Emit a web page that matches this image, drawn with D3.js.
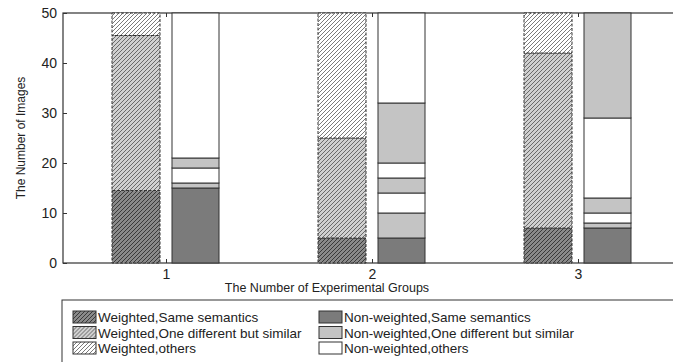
<!DOCTYPE html>
<html>
<head>
<meta charset="utf-8">
<script src="https://cdn.jsdelivr.net/npm/d3@7"></script>
<style>
  body { margin: 0; background: #fff; }
  text { font-family: "Liberation Sans", Arial, sans-serif; fill: #222; }
</style>
</head>
<body>
<div id="chart"></div>
<script>
  // groups on the x axis
  var groups = [1, 2, 3];
  var yTicks = [0, 10, 20, 30, 40, 50];

  // weighted stack (hatched)
  var wSame  = [14.5, 5, 7];
  var wDiff  = [31, 20, 35];
  var wOther = [4.5, 25, 8];

  // non-weighted stack, layers alternate as drawn in the figure
  var nwSame   = [15, 5, 7];
  var nwDiff1  = [1, 5, 1];
  var nwOther1 = [3, 4, 2];
  var nwDiff2  = [2, 3, 3];
  var nwOther2 = [29, 3, 16];
  var nwDiff3  = [0, 12, 21];
  var nwOther3 = [0, 18, 0];

  var legendLabels = [
    "Weighted,Same semantics", "Weighted,One different but similar", "Weighted,others",
    "Non-weighted,Same semantics", "Non-weighted,One different but similar", "Non-weighted,others"
  ];

  var width = 673, height = 362;
  var mLeft = 63, mRight = 681, mTop = 13, mBottom = 263;

  var svg = d3.select("#chart").append("svg")
              .attr("width", width)
              .attr("height", height);

  var defs = svg.append("defs");
  function hatch(id, bg, line){
    var p = defs.append("pattern")
                .attr("id", id)
                .attr("patternUnits", "userSpaceOnUse")
                .attr("width", 4).attr("height", 4);
    p.append("rect").attr("width", 4).attr("height", 4).attr("fill", bg);
    p.append("path")
     .attr("d", "M-1,1 l2,-2 M0,4 l4,-4 M3,5 l2,-2")
     .attr("stroke", line).attr("stroke-width", 1);
  }
  hatch("hSame", "#8a8a8a", "#3a3a3a");
  hatch("hDiff", "#d0d0d0", "#6a6a6a");
  hatch("hOther", "#ffffff", "#7a7a7a");

  var x = d3.scaleLinear().domain([0.5, 3.5]).range([mLeft, mRight]);
  var y = d3.scaleLinear().domain([0, 50]).range([mBottom, mTop]);

  var wRows = groups.map((g, i) => ({g: g, same: wSame[i], diff: wDiff[i], other: wOther[i]}));
  var wStack = d3.stack().keys(["same", "diff", "other"])(wRows);
  var wFill = {same: "url(#hSame)", diff: "url(#hDiff)", other: "url(#hOther)"};

  var nwKeys = ["s", "d1", "o1", "d2", "o2", "d3", "o3"];
  var nwRows = groups.map((g, i) => ({g: g, s: nwSame[i], d1: nwDiff1[i], o1: nwOther1[i],
    d2: nwDiff2[i], o2: nwOther2[i], d3: nwDiff3[i], o3: nwOther3[i]}));
  var nwStack = d3.stack().keys(nwKeys)(nwRows);
  var nwFill = {s: "#7b7b7b", d1: "#c4c4c4", o1: "#fff", d2: "#c4c4c4", o2: "#fff", d3: "#c4c4c4", o3: "#fff"};

  // frame
  svg.append("rect")
     .attr("x", mLeft).attr("y", mTop)
     .attr("width", mRight - mLeft).attr("height", mBottom - mTop)
     .attr("fill", "#fff").attr("stroke", "#333").attr("stroke-width", 1.2);

  // weighted bars
  svg.append("g").selectAll("g")
     .data(wStack).enter().append("g")
     .selectAll("rect")
     .data(d => d.map(v => Object.assign({key: d.key}, v)))
     .enter().append("rect")
     .attr("x", d => x(d.data.g) - 54)
     .attr("width", 48)
     .attr("y", d => y(d[1]))
     .attr("height", d => y(d[0]) - y(d[1]))
     .attr("fill", d => wFill[d.key])
     .attr("stroke", "#333")
     .attr("stroke-dasharray", "3,1.5")
     .attr("stroke-width", 1);

  // non-weighted bars
  svg.append("g").selectAll("g")
     .data(nwStack).enter().append("g")
     .selectAll("rect")
     .data(d => d.filter(v => v[1] > v[0]).map(v => Object.assign({key: d.key}, v)))
     .enter().append("rect")
     .attr("x", d => x(d.data.g) + 6)
     .attr("width", 47)
     .attr("y", d => y(d[1]))
     .attr("height", d => y(d[0]) - y(d[1]))
     .attr("fill", d => nwFill[d.key])
     .attr("stroke", "#333")
     .attr("stroke-width", 1);

  // axes
  var yAxis = svg.append("g")
     .attr("transform", "translate(" + mLeft + ",0)")
     .call(d3.axisLeft(y).tickValues(yTicks).tickSizeInner(-4).tickSizeOuter(0).tickPadding(6));
  var xAxis = svg.append("g")
     .attr("transform", "translate(0," + mBottom + ")")
     .call(d3.axisBottom(x).tickValues(groups).tickFormat(d3.format("d"))
             .tickSizeInner(-4).tickSizeOuter(0).tickPadding(6));
  var xTop = svg.append("g")
     .attr("transform", "translate(0," + mTop + ")")
     .call(d3.axisTop(x).tickValues(groups).tickSizeInner(-4).tickSizeOuter(0).tickFormat(""));
  [yAxis, xAxis, xTop].forEach(a => {
    a.select(".domain").remove();
    a.selectAll("line").attr("stroke", "#333");
    a.selectAll("text").attr("font-size", 14).style("fill", "#222")
     .attr("font-family", "'Liberation Sans', Arial, sans-serif");
  });

  svg.append("text")
     .attr("x", 327).attr("y", 292)
     .attr("text-anchor", "middle")
     .attr("font-size", 12.5)
     .text("The Number of Experimental Groups");

  svg.append("text")
     .attr("transform", "translate(25," + ((mTop + mBottom) / 2) + ") rotate(-90)")
     .attr("text-anchor", "middle")
     .attr("font-size", 12)
     .text("The Number of Images");

  // legend
  svg.append("rect")
     .attr("x", 62).attr("y", 300)
     .attr("width", 640).attr("height", 80)
     .attr("fill", "#fff").attr("stroke", "#333").attr("stroke-width", 1);

  var legendFill = ["url(#hSame)", "url(#hDiff)", "url(#hOther)", "#7b7b7b", "#c4c4c4", "#fff"];
  var lg = svg.append("g").selectAll("g")
     .data(legendLabels).enter().append("g")
     .attr("transform", (d, i) => "translate(" + (i < 3 ? 73 : 319) + "," + (311 + (i % 3) * 15.5) + ")");
  lg.append("rect")
     .attr("width", 23).attr("height", 12)
     .attr("fill", (d, i) => legendFill[i])
     .attr("stroke", "#333").attr("stroke-width", 1);
  lg.append("text")
     .attr("x", 25).attr("y", 11)
     .attr("font-size", 13.5)
     .text(d => d);
</script>
</body>
</html>
